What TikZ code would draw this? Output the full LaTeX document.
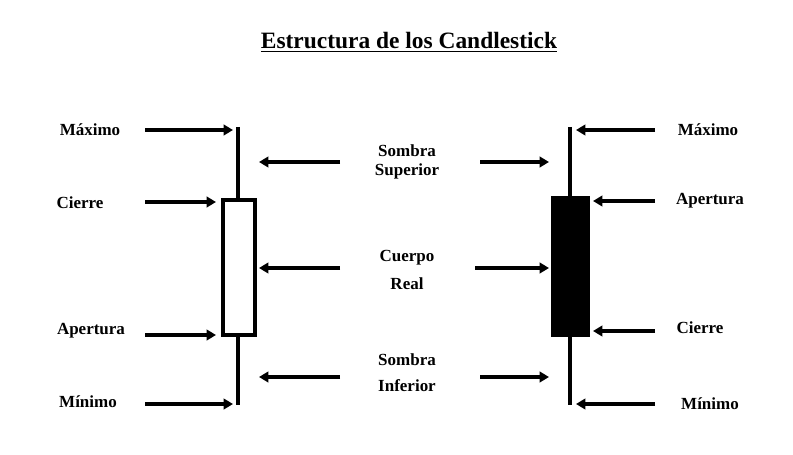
\documentclass[tikz,border=0pt]{standalone}
\usepackage{fontspec}
\setmainfont{Liberation Serif}
\usetikzlibrary{arrows.meta}
\begin{document}
\begin{tikzpicture}[x=0.03cm,y=-0.03cm,
  lbl/.style={font=\bfseries\fontsize{14.5}{16}\selectfont},
  arr/.style={line width=2.8pt,-{Triangle[length=8pt,width=9pt]}},
  wick/.style={line width=3pt},
  pt/.style={inner sep=0pt,minimum size=0pt}]
\useasboundingbox (0,0) rectangle (793,455);
\node (title) at (409,42) {\bfseries\fontsize{20}{24}\selectfont\underline{Estructura de los Candlestick}};
% left candle
\draw[wick] (238,127) -- (238,200) (238,335) -- (238,405);
\draw[line width=2.6pt,fill=white] (223,200) rectangle (255,335);
% right candle
\draw[wick] (570,127) -- (570,198) (570,335) -- (570,405);
\draw[line width=2.6pt,fill=black] (553,198) rectangle (588,335);
% left labels
\node[lbl] (lmax) at (90,130) {Máximo};
\node[lbl] (lcie) at (80,203) {Cierre};
\node[lbl] (lape) at (91,331) {Apertura};
\node[lbl] (lmin) at (88,402) {Mínimo};
\coordinate (a1) at (145,130); \coordinate (b1) at (233,130);
\coordinate (a2) at (145,202); \coordinate (b2) at (216,202);
\coordinate (a3) at (145,335); \coordinate (b3) at (216,335);
\coordinate (a4) at (145,404); \coordinate (b4) at (233,404);
\draw[arr] (a1) -- (b1); \draw[arr] (a2) -- (b2);
\draw[arr] (a3) -- (b3); \draw[arr] (a4) -- (b4);
% middle labels
\node[lbl,align=center] (ss) at (407,162) {Sombra\\[0pt]Superior};
\node[lbl,align=center] (cr) at (407,270) {Cuerpo\\[8pt]Real};
\node[lbl,align=center] (si) at (407,373) {Sombra\\[6pt]Inferior};
\coordinate (m1a) at (340,162); \coordinate (m1b) at (259,162);
\coordinate (m2a) at (340,268); \coordinate (m2b) at (259,268);
\coordinate (m3a) at (340,377); \coordinate (m3b) at (259,377);
\draw[arr] (m1a) -- (m1b); \draw[arr] (m2a) -- (m2b); \draw[arr] (m3a) -- (m3b);
\coordinate (n1a) at (480,162); \coordinate (n1b) at (549,162);
\coordinate (n2a) at (475,268); \coordinate (n2b) at (549,268);
\coordinate (n3a) at (480,377); \coordinate (n3b) at (549,377);
\draw[arr] (n1a) -- (n1b); \draw[arr] (n2a) -- (n2b); \draw[arr] (n3a) -- (n3b);
% right labels
\node[lbl] (rmax) at (708,130) {Máximo};
\node[lbl] (rape) at (710,201) {Apertura};
\node[lbl] (rcie) at (700,328) {Cierre};
\node[lbl] (rmin) at (710,404) {Mínimo};
\coordinate (c1) at (655,130); \coordinate (d1) at (576,130);
\coordinate (c2) at (655,201); \coordinate (d2) at (593,201);
\coordinate (c3) at (655,331); \coordinate (d3) at (593,331);
\coordinate (c4) at (655,404); \coordinate (d4) at (576,404);
\draw[arr] (c1) -- (d1); \draw[arr] (c2) -- (d2);
\draw[arr] (c3) -- (d3); \draw[arr] (c4) -- (d4);
\end{tikzpicture}
\end{document}
